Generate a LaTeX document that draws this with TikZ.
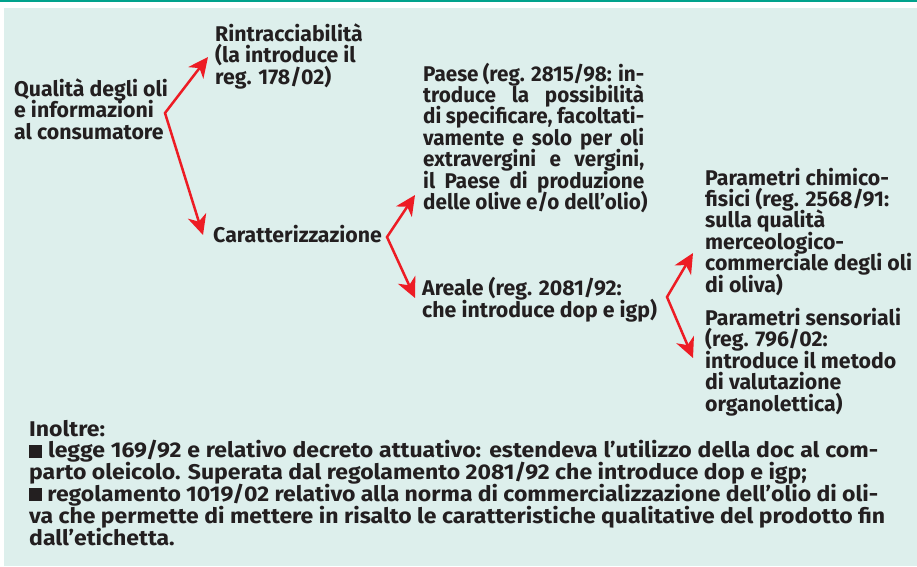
\documentclass[tikz,border=0pt]{standalone}
\usepackage{fontspec}
\setmainfont{Fira Sans}
\newfontfamily\condfont{Fira Sans}[FakeStretch=1.08]
\newfontfamily\narrowfont{Fira Sans}[FakeStretch=0.97]
\usetikzlibrary{arrows.meta}
\definecolor{bgmint}{HTML}{DDEFEC}
\definecolor{topteal}{HTML}{00A28C}
\definecolor{arrred}{HTML}{ED1C24}
\definecolor{txt}{HTML}{231F20}
\newcommand\tightlines{\setlength{\lineskiplimit}{-40pt}\setlength{\lineskip}{0pt}}
\tikzset{
  lbl/.style={anchor=base west, inner sep=0pt, align=left, text=txt,
    font=\bfseries\fontsize{21.3}{21.4}\selectfont\tightlines},
  narrowlbl/.style={lbl, font=\narrowfont\bfseries\fontsize{21.3}{21.4}\selectfont\tightlines},
  bottomtxt/.style={anchor=base west, inner sep=0pt, align=left, text=txt,
    font=\condfont\bfseries\fontsize{21.3}{21.8}\selectfont\tightlines},
  conn/.style={draw=arrred, line width=2.5pt, line join=miter,
    {Stealth[length=20pt,width=19pt,inset=6pt]}-{Stealth[length=20pt,width=19pt,inset=6pt]}},
}
\newcommand\sqbullet{\rule{13pt}{13pt}}
\newcommand\jline[2]{\makebox[#1][s]{#2}}
\begin{document}
\begin{tikzpicture}[x=1pt,y=-1pt]
\useasboundingbox (0,0) rectangle (917,566);
\fill[white] (0,0) rectangle (917,566);
\fill[bgmint] (4,8) rectangle (917,566);
\fill[topteal] (0,0) rectangle (917,2.3);

% base anchor of a multi-line node = baseline of its last line
\node[lbl] (q) at (14,139) {Qualità degli oli\\e informazioni\\al consumatore};
\node[lbl] (r) at (215,84) {Rintracciabilità\\(la introduce il\\reg. 178/02)};
\node[lbl] (c) at (213,242) {Caratterizzazione};
\node[narrowlbl] (p) at (423,209.5) {\jline{221pt}{Paese (reg. 2815/98: in-}\\
  \jline{221pt}{troduce la possibilità}\\
  \jline{221pt}{di specificare, facoltati-}\\
  \jline{221pt}{vamente e solo per oli}\\
  \jline{221pt}{extravergini e vergini,}\\
  \jline{221pt}{il Paese di produzione}\\
  delle olive e/o dell’olio)};
\node[lbl] (a) at (422,317) {Areale (reg. 2081/92:\\che introduce dop e igp)};
\node[lbl] (pc) at (705,292) {Parametri chimico-\\fisici (reg. 2568/91:\\sulla qualità\\merceologico-\\commerciale degli oli\\di oliva)};
\node[lbl] (ps) at (705,411) {Parametri sensoriali\\(reg. 796/02:\\introduce il metodo\\di valutazione\\organolettica)};

\node[bottomtxt] (b) at (29,545) {Inoltre:\\
  \jline{849pt}{\sqbullet\ legge 169/92 e relativo decreto attuativo: estendeva l’utilizzo della doc al com-}\\
  parto oleicolo. Superata dal regolamento 2081/92 che introduce dop e igp;\\
  \jline{849pt}{\sqbullet\ regolamento 1019/02 relativo alla norma di commercializzazione dell’olio di oli-}\\
  \jline{856pt}{va che permette di mettere in risalto le caratteristiche qualitative del prodotto fin}\\
  dall’etichetta.};

\coordinate (v1) at (165,113);
\coordinate (t1a) at (208,57);
\coordinate (t1b) at (203,235);
\coordinate (v2) at (387,237);
\coordinate (t2a) at (415,195);
\coordinate (t2b) at (415,298);
\coordinate (v3) at (667,297);
\coordinate (t3a) at (693,253);
\coordinate (t3b) at (693,358);

\draw[conn] (t1a) -- (v1) -- (t1b);
\draw[conn] (t2a) -- (v2) -- (t2b);
\draw[conn] (t3a) -- (v3) -- (t3b);
\end{tikzpicture}
\end{document}
